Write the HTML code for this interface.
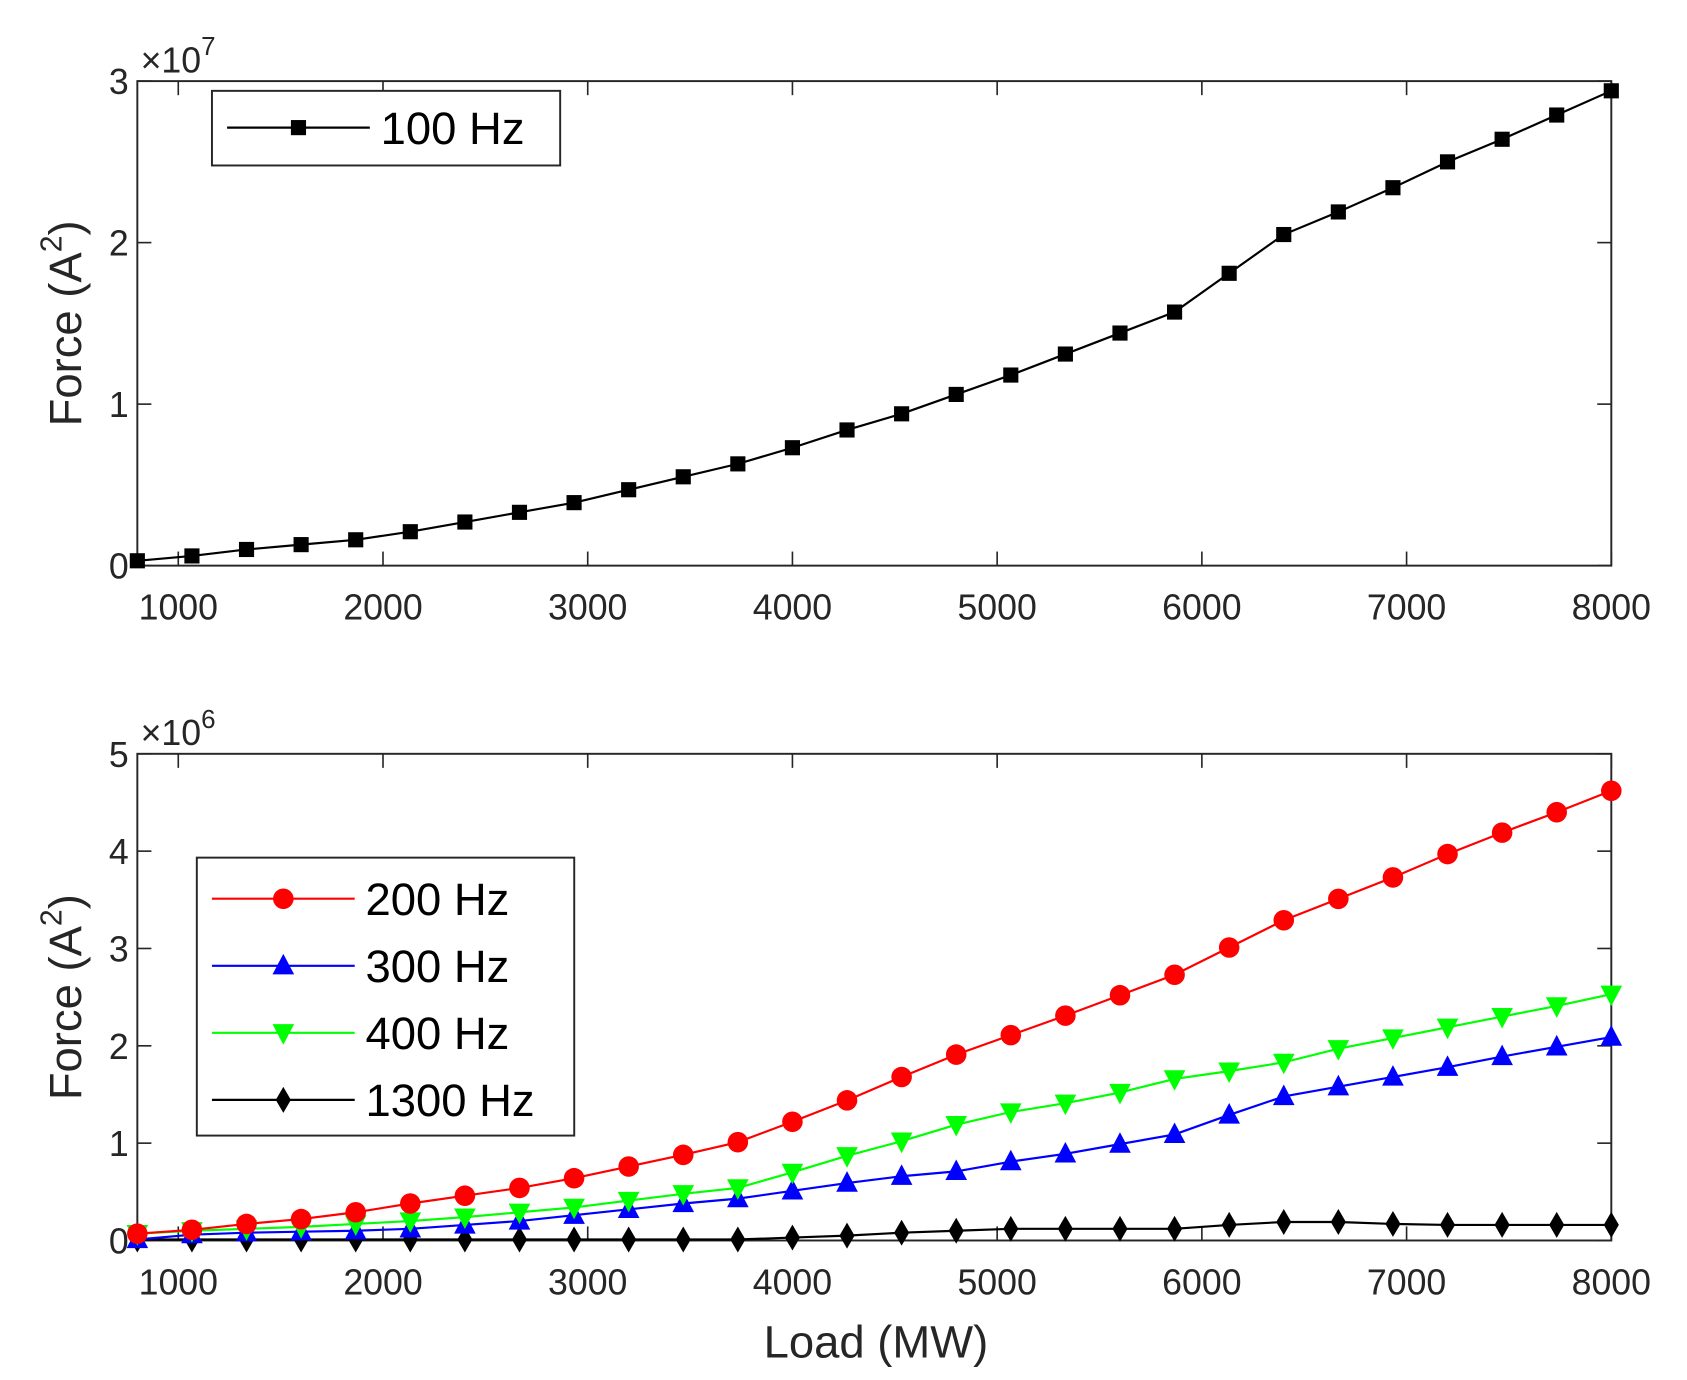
<!DOCTYPE html>
<html><head><meta charset="utf-8"><style>
html,body{margin:0;padding:0;background:#fff}
svg{display:block}
text{font-family:"Liberation Sans",sans-serif;fill:#262626}
</style></head><body>
<svg id="fig" width="1687" height="1380" viewBox="0 0 1560 1276" preserveAspectRatio="none" xmlns="http://www.w3.org/2000/svg"></svg>
<script>
const loads = Array.from({length:28},(_,i)=>800+i*(7200/27));
const xTicks = [1000,2000,3000,4000,5000,6000,7000,8000];
const f100 = [0.03,0.06,0.10,0.13,0.16,0.21,0.27,0.33,0.39,0.47,0.55,0.63,0.73,0.84,0.94,1.06,1.18,1.31,1.44,1.57,1.81,2.05,2.19,2.34,2.50,2.64,2.79,2.94];
const f200 = [0.07,0.11,0.17,0.22,0.29,0.38,0.46,0.54,0.64,0.76,0.88,1.01,1.22,1.44,1.68,1.91,2.11,2.31,2.52,2.73,3.01,3.29,3.51,3.73,3.97,4.19,4.40,4.62];
const f300 = [0.01,0.06,0.08,0.09,0.10,0.12,0.16,0.20,0.26,0.32,0.38,0.43,0.51,0.59,0.66,0.71,0.81,0.89,0.99,1.09,1.29,1.48,1.58,1.68,1.78,1.89,1.99,2.09];
const f400 = [0.07,0.10,0.12,0.14,0.17,0.20,0.24,0.29,0.34,0.41,0.48,0.54,0.70,0.87,1.02,1.19,1.32,1.41,1.52,1.66,1.74,1.83,1.97,2.08,2.19,2.30,2.41,2.53];
const f1300 = [0.01,0.01,0.01,0.01,0.01,0.01,0.01,0.01,0.01,0.01,0.01,0.01,0.03,0.05,0.08,0.10,0.12,0.12,0.12,0.12,0.16,0.19,0.19,0.17,0.16,0.16,0.16,0.16];
const yTicksTop = [0,1,2,3];
const yTicksBot = [0,1,2,3,4,5];

const NS="http://www.w3.org/2000/svg";
const svg=document.getElementById('fig');
function mk(tag,attrs,parent){const e=document.createElementNS(NS,tag);for(const k in attrs)e.setAttribute(k,attrs[k]);(parent||svg).appendChild(e);return e;}
const X0=127,X1=1490;
const xs=v=>X0+(v-800)/7200*(X1-X0);

function marker(g,type,x,y,color){
  let m;
  if(type==='square') m=mk('rect',{x:x-7,y:y-7,width:14,height:14,fill:color},g);
  else if(type==='circle') m=mk('circle',{cx:x,cy:y,r:9.5,fill:color},g);
  else if(type==='up') m=mk('polygon',{points:`${x},${y-11} ${x-10},${y+8} ${x+10},${y+8}`,fill:color},g);
  else if(type==='down') m=mk('polygon',{points:`${x},${y+11} ${x-10},${y-8} ${x+10},${y-8}`,fill:color},g);
  else m=mk('polygon',{points:`${x},${y-12} ${x-7},${y} ${x},${y+12} ${x+7},${y}`,fill:color},g);
  
  
}

function axes(name,Y0,Y1,ymax,yt,exp){
  const ys=v=>Y1-(v/ymax)*(Y1-Y0);
  const g=mk('g',{});
  
  
  mk('rect',{x:X0,y:Y0,width:X1-X0,height:Y1-Y0,fill:'#fff',stroke:'#262626','stroke-width':1.8},g);
  xTicks.forEach(t=>{
    const x=xs(t);
    mk('line',{x1:x,y1:Y1,x2:x,y2:Y1-13,stroke:'#262626','stroke-width':1.5},g);
    mk('line',{x1:x,y1:Y0,x2:x,y2:Y0+13,stroke:'#262626','stroke-width':1.5},g);
    const tx=mk('text',{x:x,y:Y1+50,'text-anchor':'middle','font-size':33},g);tx.textContent=t;
    
    
  });
  yt.forEach(t=>{
    const y=ys(t);
    mk('line',{x1:X0,y1:y,x2:X0+13,y2:y,stroke:'#262626','stroke-width':1.5},g);
    mk('line',{x1:X1,y1:y,x2:X1-13,y2:y,stroke:'#262626','stroke-width':1.5},g);
    const tx=mk('text',{x:X0-8,y:y+12,'text-anchor':'end','font-size':33},g);tx.textContent=t;
    
    
  });
  const ex=mk('text',{x:X0+3,y:Y0-8,'font-size':33},g);
  ex.innerHTML='×10<tspan dy="-16" font-size="24">'+exp+'</tspan>';
  
  
  const yl=mk('text',{transform:`translate(75,${(Y0+Y1)/2}) rotate(-90)`,'text-anchor':'middle','font-size':42},g);
  yl.innerHTML='Force (A<tspan dy="-18" font-size="28">2</tspan><tspan dy="18">)</tspan>';
  
  
  return ys;
}

function series(name,data,ys,color,type){
  const g=mk('g',{});
  
  
  mk('polyline',{points:data.map((v,i)=>xs(loads[i])+','+ys(v)).join(' '),fill:'none',stroke:color,'stroke-width':2},g);
  data.forEach((v,i)=>marker(g,type,xs(loads[i]),ys(v),color));
}

function legend(name,x,y,w,h,entries){
  const g=mk('g',{});
  
  
  mk('rect',{x:x,y:y,width:w,height:h,fill:'#fff',stroke:'#262626','stroke-width':1.8},g);
  entries.forEach(e=>{
    const eg=mk('g',{},g);
    
    
    mk('line',{x1:x+14,y1:e.y,x2:x+146,y2:e.y,stroke:e.color,'stroke-width':2},eg);
    marker(eg,e.type,x+80,e.y,e.color);
    const t=mk('text',{x:x+156,y:e.y+15,'font-size':42,style:'fill:#000'},eg);t.textContent=e.label;
  });
}

const ysTop=axes('top-axes',75,523,3,yTicksTop,7);
series('series-100hz',f100,ysTop,'#000','square');
legend('legend-top',196,84,322,69,[{y:118,color:'#000',type:'square',label:'100 Hz'}]);

const ysBot=axes('bottom-axes',697,1147,5,yTicksBot,6);
series('series-1300hz',f1300,ysBot,'#000','diamond');
series('series-300hz',f300,ysBot,'#0000ff','up');
series('series-400hz',f400,ysBot,'#00ff00','down');
series('series-200hz',f200,ysBot,'#ff0000','circle');
legend('legend-bottom',182,793,349,257,[
 {y:831,color:'#ff0000',type:'circle',label:'200 Hz'},
 {y:893,color:'#0000ff',type:'up',label:'300 Hz'},
 {y:955,color:'#00ff00',type:'down',label:'400 Hz'},
 {y:1017,color:'#000',type:'diamond',label:'1300 Hz'}]);

const xl=mk('text',{x:810,y:1255,'text-anchor':'middle','font-size':42});
xl.textContent='Load (MW)';


</script>
</body></html>
